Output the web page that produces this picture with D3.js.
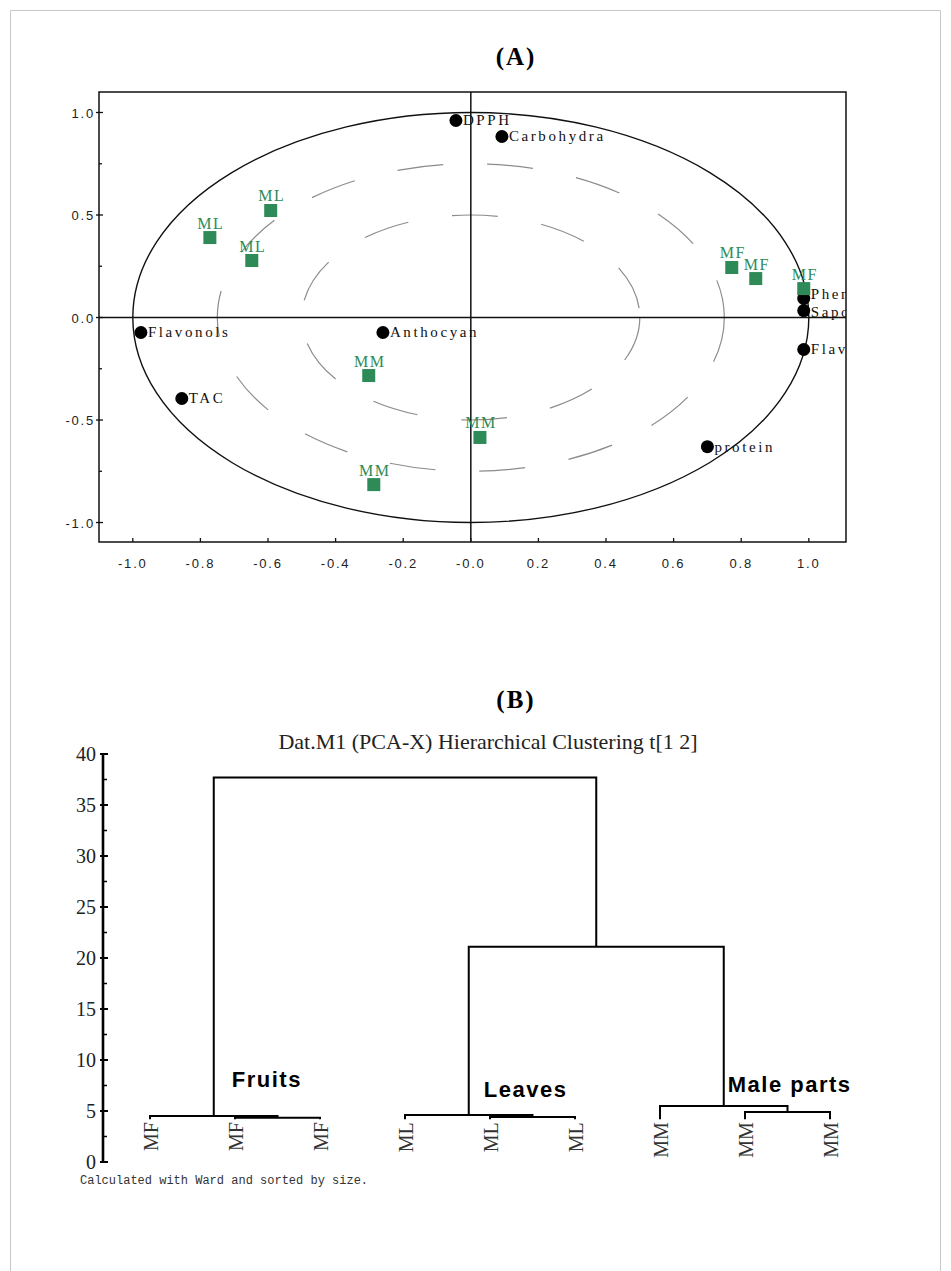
<!DOCTYPE html>
<html>
<head>
<meta charset="utf-8">
<script src="https://cdn.jsdelivr.net/npm/d3@7"></script>
<style>
  body { margin: 0; background: #fff; }
  svg { display: block; }
</style>
</head>
<body>
<svg id="chart" width="951" height="1271"></svg>
<script>
// ---------- (A) PCA loadings + scores ----------
const loadingNames = ["DPPH", "Carbohydra", "Phen", "Sapo", "Flavo", "protein", "Flavonols", "TAC", "Anthocyan"];
const loadingX = [-0.044, 0.092, 0.985, 0.985, 0.985, 0.700, -0.976, -0.855, -0.260];
const loadingY = [0.961, 0.883, 0.093, 0.034, -0.156, -0.630, -0.073, -0.395, -0.073];

const sampleNames = ["ML", "ML", "ML", "MF", "MF", "MF", "MM", "MM", "MM"];
const sampleX = [-0.592, -0.772, -0.648, 0.772, 0.843, 0.985, -0.302, 0.027, -0.287];
const sampleY = [0.522, 0.390, 0.278, 0.244, 0.190, 0.141, -0.283, -0.585, -0.815];

const ringRadii = [1, 0.75, 0.5];
const pcaXTicks = [-1, -0.8, -0.6, -0.4, -0.2, 0, 0.2, 0.4, 0.6, 0.8, 1];
const pcaXTickLabels = ["-1.0", "-0.8", "-0.6", "-0.4", "-0.2", "-0.0", "0.2", "0.4", "0.6", "0.8", "1.0"];
const pcaYTicks = [-1, -0.5, 0, 0.5, 1];
const pcaYTickLabels = ["-1.0", "-0.5", "0.0", "0.5", "1.0"];
const pcaYMinorTicks = [-0.75, -0.25, 0.25, 0.75];

// ---------- (B) Ward dendrogram ----------
const leafLabels = ["MF", "MF", "MF", "ML", "ML", "ML", "MM", "MM", "MM"];
// linkage rows: ids 0-8 are leaves, row i creates node id 9+i
const mergeA = [1, 0, 4, 3, 7, 6, 12, 10];
const mergeB = [2, 9, 5, 11, 8, 13, 14, 15];
const mergeHeight = [4.34, 4.5, 4.4, 4.6, 4.9, 5.5, 21.1, 37.7];
const leafBase = 4.2;
const clusterNames = ["Fruits", "Leaves", "Male parts"];
const clusterNodes = [10, 12, 14];
const dendroTicks = [0, 5, 10, 15, 20, 25, 30, 35, 40];

const svg = d3.select("#chart");
const green = "#2e8b57";

// page frame
svg.append("path")
  .attr("d", "M10.5,1271 V10.5 H940.5 V1271")
  .attr("fill", "none").attr("stroke", "#c8c8c8").attr("stroke-width", 1);

// ===== Panel A =====
const ax = d3.scaleLinear().domain([-1.1, 1.11]).range([99, 846]);
const ay = d3.scaleLinear().domain([-1.095, 1.1]).range([542, 92]);

svg.append("text").attr("x", 516).attr("y", 65)
  .attr("text-anchor", "middle")
  .attr("font-family", "Liberation Serif").attr("font-weight", "bold")
  .attr("font-size", 25).attr("letter-spacing", 2)
  .text("(A)");

svg.append("clipPath").attr("id", "clipA")
  .append("rect").attr("x", ax.range()[0]).attr("y", ay.range()[1])
  .attr("width", ax.range()[1] - ax.range()[0]).attr("height", ay.range()[0] - ay.range()[1]);

const gA = svg.append("g");
const plotA = gA.append("g").attr("clip-path", "url(#clipA)");

// correlation circles
plotA.selectAll("ellipse.ring").data(ringRadii).join("ellipse")
  .attr("class", "ring")
  .attr("cx", ax(0)).attr("cy", ay(0))
  .attr("rx", d => ax(d) - ax(0)).attr("ry", d => ay(0) - ay(d))
  .attr("fill", "none")
  .attr("stroke", d => d === 1 ? "#111" : "#8c8c8c")
  .attr("stroke-width", d => d === 1 ? 1.4 : 1.2)
  .attr("stroke-dasharray", d => d === 1 ? null : "46,44");

// origin cross
plotA.append("line").attr("x1", ax.range()[0]).attr("x2", ax.range()[1])
  .attr("y1", ay(0)).attr("y2", ay(0)).attr("stroke", "#111").attr("stroke-width", 1.5);
plotA.append("line").attr("x1", ax(0)).attr("x2", ax(0))
  .attr("y1", ay.range()[1]).attr("y2", ay.range()[0]).attr("stroke", "#111").attr("stroke-width", 1.5);

// variable loadings; the two stacked right-edge labels are nudged apart
const loadingLabelDy = { Phen: -4, Sapo: 1 };
const loadings = loadingNames.map((n, i) => ({ name: n, x: loadingX[i], y: loadingY[i] }));
plotA.selectAll("circle.load").data(loadings).join("circle")
  .attr("class", "load")
  .attr("cx", d => ax(d.x)).attr("cy", d => ay(d.y)).attr("r", 6.5)
  .attr("fill", "#000");
plotA.selectAll("text.load").data(loadings).join("text")
  .attr("class", "load")
  .attr("x", d => ax(d.x) + 7).attr("y", d => ay(d.y) + 5 + (loadingLabelDy[d.name] || 0))
  .attr("font-family", "Liberation Serif").attr("font-size", 15)
  .attr("letter-spacing", 2.6).attr("fill", "#111")
  .text(d => d.name);

// sample scores
const samples = sampleNames.map((n, i) => ({ name: n, x: sampleX[i], y: sampleY[i] }));
plotA.selectAll("rect.score").data(samples).join("rect")
  .attr("class", "score")
  .attr("x", d => ax(d.x) - 6.5).attr("y", d => ay(d.y) - 6.5)
  .attr("width", 13).attr("height", 13).attr("fill", green);
plotA.selectAll("text.score").data(samples).join("text")
  .attr("class", "score")
  .attr("x", d => ax(d.x) + 1).attr("y", d => ay(d.y) - 9)
  .attr("text-anchor", "middle")
  .attr("font-family", "Liberation Serif").attr("font-size", 16)
  .attr("letter-spacing", 1.5).attr("fill", green)
  .text(d => d.name);

// frame
gA.append("rect")
  .attr("x", ax.range()[0]).attr("y", ay.range()[1])
  .attr("width", ax.range()[1] - ax.range()[0]).attr("height", ay.range()[0] - ay.range()[1])
  .attr("fill", "none").attr("stroke", "#111").attr("stroke-width", 1.5);

// y axis ticks
const x0A = ax.range()[0];
gA.selectAll("line.ytick").data(pcaYTicks).join("line")
  .attr("x1", x0A - 3).attr("x2", x0A + 4)
  .attr("y1", d => ay(d)).attr("y2", d => ay(d))
  .attr("stroke", "#111").attr("stroke-width", 1.3);
gA.selectAll("line.yminor").data(pcaYMinorTicks).join("line")
  .attr("x1", x0A).attr("x2", x0A + 3)
  .attr("y1", d => ay(d)).attr("y2", d => ay(d))
  .attr("stroke", "#111").attr("stroke-width", 1.3);
gA.selectAll("text.ytick").data(pcaYTicks).join("text")
  .attr("x", x0A - 4).attr("y", d => ay(d) + 5)
  .attr("text-anchor", "end")
  .attr("font-family", "Liberation Sans").attr("font-size", 13)
  .attr("letter-spacing", 1.8).attr("fill", "#222")
  .text((d, i) => pcaYTickLabels[i]);

// x axis ticks
const y0A = ay.range()[0];
gA.selectAll("line.xtick").data(pcaXTicks).join("line")
  .attr("x1", d => ax(d)).attr("x2", d => ax(d))
  .attr("y1", y0A - 4).attr("y2", y0A)
  .attr("stroke", "#111").attr("stroke-width", 1.3);
gA.selectAll("text.xtick").data(pcaXTicks).join("text")
  .attr("x", d => ax(d)).attr("y", y0A + 26)
  .attr("text-anchor", "middle")
  .attr("font-family", "Liberation Sans").attr("font-size", 13)
  .attr("letter-spacing", 1.8).attr("fill", "#222")
  .text((d, i) => pcaXTickLabels[i]);

// ===== Panel B =====
svg.append("text").attr("x", 516).attr("y", 708)
  .attr("text-anchor", "middle")
  .attr("font-family", "Liberation Serif").attr("font-weight", "bold")
  .attr("font-size", 25).attr("letter-spacing", 2)
  .text("(B)");

svg.append("text").attr("x", 488).attr("y", 749)
  .attr("text-anchor", "middle")
  .attr("font-family", "Liberation Serif").attr("font-size", 22)
  .attr("fill", "#222")
  .text("Dat.M1 (PCA-X) Hierarchical Clustering t[1 2]");

const dy = d3.scaleLinear().domain([0, 40]).range([1162, 754]);
const dx = d3.scalePoint().domain(d3.range(leafLabels.length)).range([150, 830]);
const axisX = 103;

const gB = svg.append("g");

// y axis
gB.append("line").attr("x1", axisX).attr("x2", axisX)
  .attr("y1", dy(0)).attr("y2", dy(40))
  .attr("stroke", "#000").attr("stroke-width", 2.6);
gB.selectAll("line.major").data(dendroTicks).join("line")
  .attr("x1", axisX - 3).attr("x2", axisX + 5)
  .attr("y1", d => dy(d)).attr("y2", d => dy(d))
  .attr("stroke", "#000").attr("stroke-width", 2);
gB.selectAll("line.minor").data(dendroTicks.slice(0, -1).map(d => d + 2.5)).join("line")
  .attr("x1", axisX).attr("x2", axisX + 4)
  .attr("y1", d => dy(d)).attr("y2", d => dy(d))
  .attr("stroke", "#000").attr("stroke-width", 1.5);
gB.selectAll("text.tick").data(dendroTicks).join("text")
  .attr("x", axisX - 7).attr("y", d => dy(d) + 7)
  .attr("text-anchor", "end")
  .attr("font-family", "Liberation Serif").attr("font-size", 20)
  .attr("fill", "#222")
  .text(d => d);

// node positions from linkage
const nodeX = leafLabels.map((_, i) => dx(i));
const nodeH = leafLabels.map(() => leafBase);
mergeA.forEach((a, i) => {
  nodeX.push((nodeX[a] + nodeX[mergeB[i]]) / 2);
  nodeH.push(mergeHeight[i]);
});

const links = gB.append("g").attr("fill", "none").attr("stroke", "#000").attr("stroke-width", 2);
mergeA.forEach((a, i) => {
  const b = mergeB[i];
  const h = mergeHeight[i];
  const path = d3.path();
  path.moveTo(nodeX[a], dy(nodeH[a]));
  path.lineTo(nodeX[a], dy(h));
  path.lineTo(nodeX[b], dy(h));
  path.lineTo(nodeX[b], dy(nodeH[b]));
  links.append("path").attr("d", path.toString());
});

// leaf labels
gB.selectAll("text.leaf").data(leafLabels).join("text")
  .attr("transform", (d, i) => `translate(${dx(i) + 1},${dy(leafBase) + 3}) rotate(-90)`)
  .attr("text-anchor", "end")
  .attr("dominant-baseline", "central")
  .attr("font-family", "Liberation Serif").attr("font-size", 20)
  .attr("fill", "#333")
  .text(d => d);

// cluster names
const clusterOffset = [[18, -29], [15, -18], [4, -14]];
gB.selectAll("text.cluster").data(clusterNames).join("text")
  .attr("x", (d, i) => nodeX[clusterNodes[i]] + clusterOffset[i][0])
  .attr("y", (d, i) => dy(nodeH[clusterNodes[i]]) + clusterOffset[i][1])
  .attr("font-family", "Liberation Sans").attr("font-weight", "bold")
  .attr("font-size", 22).attr("letter-spacing", 1.5)
  .attr("fill", "#000")
  .text(d => d);

svg.append("text").attr("x", 80).attr("y", 1184)
  .attr("font-family", "Liberation Mono").attr("font-size", 12)
  .attr("fill", "#333")
  .text("Calculated with Ward and sorted by size.");
</script>
</body>
</html>
